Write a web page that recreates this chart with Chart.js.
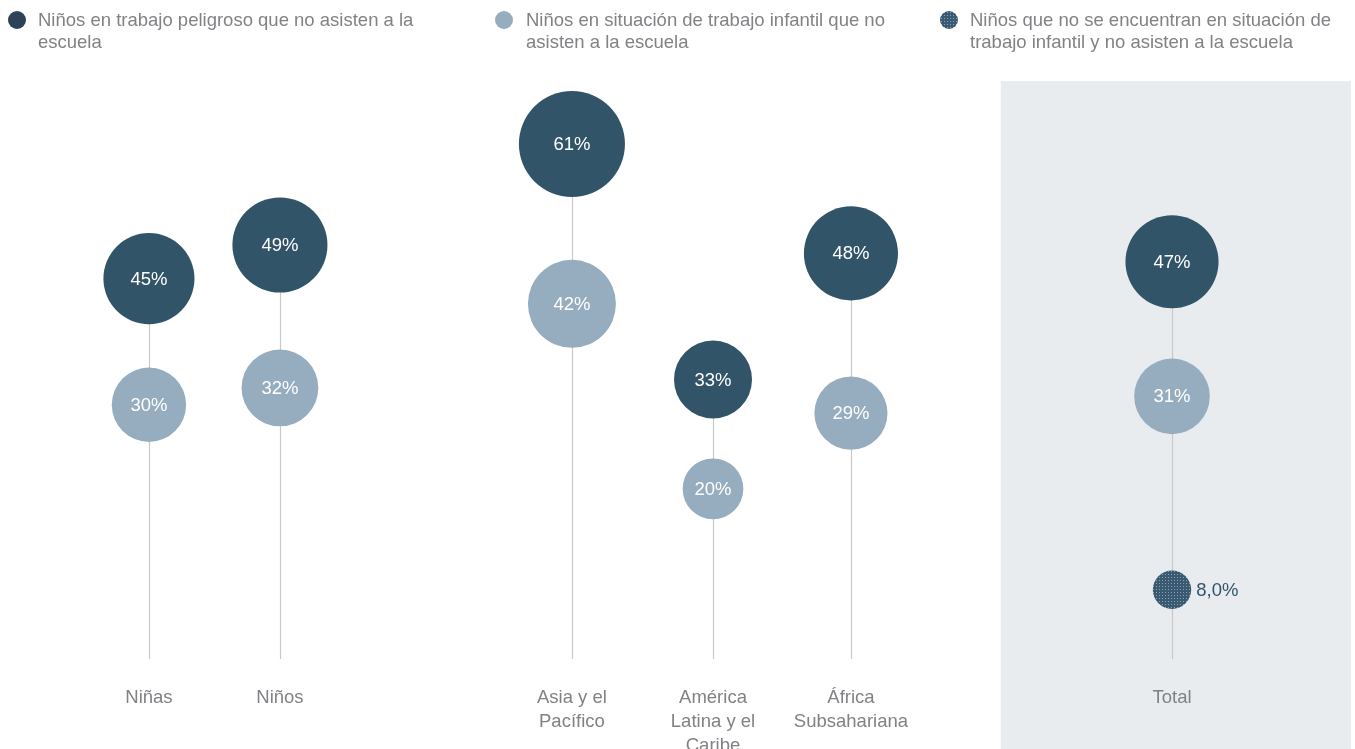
<!DOCTYPE html>
<html>
<head>
<meta charset="utf-8">
<script src="https://cdn.jsdelivr.net/npm/chart.js@4/dist/chart.umd.min.js"></script>
<style>
  html, body { margin: 0; padding: 0; background: #fff; }
  #wrap { position: relative; width: 1355px; height: 749px; overflow: hidden; }
  canvas { position: absolute; left: 0; top: 0; }
  .leg { position: absolute; top: 9px; font-family: "Liberation Sans", Arial, sans-serif; font-size: 18.5px; line-height: 22px; color: #808285; }
  .leg .dot { position: absolute; left: -30px; top: 2px; width: 18px; height: 18px; border-radius: 50%; }
</style>
</head>
<body>
<div id="wrap">
  <canvas id="c" width="1355" height="749"></canvas>
  <div class="leg" style="left:38px;width:400px"><span class="dot" style="background:#2d4257;left:-30px"></span>Niños en trabajo peligroso que no asisten a la escuela</div>
  <div class="leg" style="left:526px;width:380px"><span class="dot" style="background:#95adbf;left:-31px"></span>Niños en situación de trabajo infantil que no asisten a la escuela</div>
  <div class="leg" style="left:970px;width:385px"><span class="dot" id="patdot" style="background:#3a5a72;left:-30px"></span>Niños que no se encuentran en situación de trabajo infantil y no asisten a la escuela</div>
</div>
<script>
// ---- data ----
const categories = [["Niñas"], ["Niños"], ["Asia y el", "Pacífico"], ["América", "Latina y el", "Caribe"], ["África", "Subsahariana"], ["Total"]];
const xPos = [1.137, 2.137, 4.366, 5.443, 6.496, 8.947];
const hazardous = [45, 49, 61, 33, 48, 47];
const childLabour = [30, 32, 42, 20, 29, 31];
const notLabourTotal = [8.0];
const notLabourLabels = ["8,0%"];
const shadeFrom = 7.64;

const DARK = "#325469";
const LIGHT = "#95adbf";
const rOf = v => 6.79 * Math.sqrt(v);

function makePattern() {
  const p = document.createElement("canvas");
  p.width = 3; p.height = 3;
  const g = p.getContext("2d");
  g.fillStyle = "#3a5a72"; g.fillRect(0, 0, 3, 3);
  g.fillStyle = "#8aa1b3"; g.fillRect(1, 1, 1, 1);
  return g.createPattern(p, "repeat");
}
const pattern = makePattern();
document.getElementById("patdot").style.background =
  "radial-gradient(circle, #8aa1b3 0.6px, transparent 0.9px) 0 0/3px 3px, #3a5a72";

const shadePlugin = {
  id: "shade",
  beforeDraw(chart) {
    const ctx = chart.ctx, xs = chart.scales.x;
    ctx.save();
    ctx.fillStyle = "#e8ecef";
    const x0 = xs.getPixelForValue(shadeFrom);
    ctx.fillRect(x0, chart.chartArea.top, chart.width - 4 - x0, chart.height - chart.chartArea.top);
    ctx.restore();
  },
  beforeDatasetsDraw(chart) {
    const ctx = chart.ctx, xs = chart.scales.x, ys = chart.scales.y;
    ctx.save();
    ctx.strokeStyle = "#c9c9c9";
    ctx.lineWidth = 1.2;
    xPos.forEach((xv, i) => {
      const x = Math.round(xs.getPixelForValue(xv)) + 0.5;
      const top = ys.getPixelForValue(Math.max(hazardous[i], childLabour[i]));
      ctx.beginPath();
      ctx.moveTo(x, top);
      ctx.lineTo(x, ys.getPixelForValue(0) + 2);
      ctx.stroke();
    });
    ctx.restore();
  },
  afterDatasetsDraw(chart) {
    const ctx = chart.ctx;
    ctx.save();
    ctx.font = '18.5px "Liberation Sans", Arial, sans-serif';
    ctx.textBaseline = "middle";
    [0, 1].forEach(di => {
      const meta = chart.getDatasetMeta(di);
      const vals = chart.data.datasets[di].data;
      meta.data.forEach((el, i) => {
        ctx.fillStyle = "#ffffff";
        ctx.textAlign = "center";
        ctx.fillText(Math.round(vals[i].y) + "%", el.x, el.y + 1);
      });
    });
    const meta2 = chart.getDatasetMeta(2);
    meta2.data.forEach((el, i) => {
      ctx.fillStyle = "#325469";
      ctx.textAlign = "left";
      ctx.fillText(notLabourLabels[i], el.x + rOf(notLabourTotal[i]) + 5, el.y + 1);
    });
    ctx.restore();
  }
};

new Chart(document.getElementById("c"), {
  type: "bubble",
  data: {
    datasets: [
      { label: "Niños en trabajo peligroso que no asisten a la escuela",
        data: hazardous.map((v, i) => ({ x: xPos[i], y: v, r: rOf(v) })),
        backgroundColor: DARK, borderWidth: 0 },
      { label: "Niños en situación de trabajo infantil que no asisten a la escuela",
        data: childLabour.map((v, i) => ({ x: xPos[i], y: v, r: rOf(v) })),
        backgroundColor: LIGHT, borderWidth: 0 },
      { label: "Niños que no se encuentran en situación de trabajo infantil y no asisten a la escuela",
        data: notLabourTotal.map(v => ({ x: xPos[5], y: v, r: rOf(v) })),
        backgroundColor: pattern, borderWidth: 0 }
    ]
  },
  options: {
    responsive: false,
    animation: false,
    layout: { autoPadding: false, padding: { top: 81, left: 0, right: 0, bottom: 0 } },
    plugins: { legend: { display: false }, tooltip: { enabled: false } },
    elements: { point: { hoverRadius: 0 } },
    scales: {
      x: {
        type: "linear", min: 0, max: 10.344,
        grid: { display: false }, border: { display: false },
        afterBuildTicks(axis) { axis.ticks = xPos.map(v => ({ value: v })); },
        afterFit(axis) { axis.height = 92; },
        ticks: {
          autoSkip: false, maxRotation: 0, padding: 21,
          color: "#808285",
          font: { family: '"Liberation Sans", Arial, sans-serif', size: 18.5, lineHeight: 1.3 },
          callback: (v, i) => categories[i]
        }
      },
      y: { type: "linear", min: 0, max: 68.5, display: false }
    }
  },
  plugins: [shadePlugin]
});
</script>
</body>
</html>
